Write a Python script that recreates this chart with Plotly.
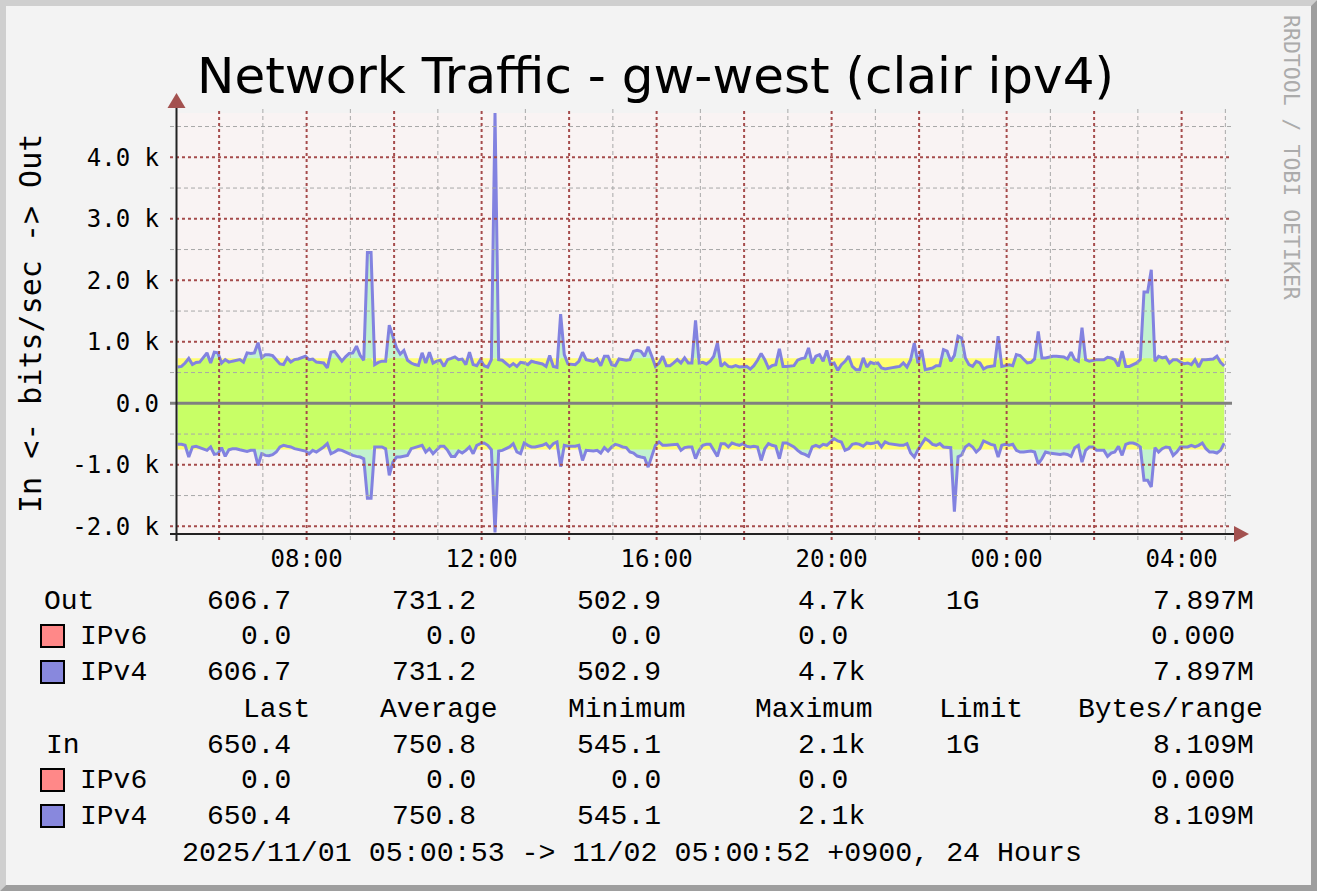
import plotly.graph_objects as go
import pandas as pd

# ---------------- data ----------------
range_start = pd.Timestamp("2025-11-01 05:00:53")
range_end = pd.Timestamp("2025-11-02 05:00:52")
times = pd.date_range(range_start + pd.Timedelta(minutes=2.5), periods=288, freq="5min")

out_ipv4 = [
    590, 600, 655, 730, 630, 665, 670, 740, 820, 655,
    830, 820, 655, 710, 670, 685, 700, 710, 670, 820,
    810, 820, 985, 740, 790, 790, 775, 710, 640, 630,
    740, 670, 710, 720, 740, 765, 710, 720, 670, 665,
    655, 575, 830, 845, 765, 685, 755, 810, 820, 930,
    780, 700, 2450, 2450, 630, 665, 685, 685, 1270, 1100,
    900, 800, 860, 700, 655, 630, 615, 820, 655, 830,
    655, 685, 700, 600, 710, 730, 755, 710, 720, 630,
    830, 630, 612, 710, 612, 590, 710, 4720, 710, 700,
    656, 600, 645, 600, 667, 656, 628, 683, 667, 656,
    639, 600, 776, 600, 585, 1450, 792, 640, 628, 628,
    683, 830, 710, 694, 683, 721, 612, 765, 765, 628,
    612, 721, 710, 700, 710, 847, 863, 847, 765, 918,
    765, 600, 656, 765, 612, 612, 656, 710, 656, 738,
    656, 656, 1350, 656, 667, 640, 683, 765, 984, 600,
    656, 600, 590, 612, 590, 600, 600, 557, 612, 700,
    809, 710, 574, 612, 628, 885, 600, 600, 612, 612,
    700, 727, 738, 900, 650, 765, 792, 683, 860, 640,
    656, 535, 628, 683, 765, 600, 546, 546, 738, 590,
    667, 645, 656, 574, 557, 574, 580, 590, 600, 656,
    590, 710, 980, 650, 874, 546, 557, 574, 612, 612,
    874, 847, 683, 780, 1090, 1060, 738, 628, 600, 683,
    656, 557, 590, 600, 612, 1090, 600, 612, 628, 612,
    792, 776, 710, 656, 667, 721, 1170, 738, 738, 754,
    765, 765, 765, 754, 721, 830, 710, 683, 1230, 710,
    683, 700, 710, 710, 710, 749, 738, 710, 600, 847,
    600, 600, 628, 656, 710, 1810, 1810, 2170, 683, 765,
    738, 754, 656, 710, 710, 667, 645, 656, 628, 710,
    590, 710, 710, 710, 721, 765, 667, 607,
]

in_ipv4 = [
    667, 667, 683, 874, 710, 699, 721, 738, 765, 710,
    831, 820, 721, 863, 754, 738, 738, 754, 765, 781,
    765, 765, 1011, 820, 847, 852, 836, 792, 710, 683,
    699, 710, 738, 754, 765, 776, 820, 765, 792, 754,
    710, 656, 820, 792, 754, 765, 792, 831, 847, 863,
    874, 902, 1545, 1545, 710, 710, 710, 740, 1170, 956,
    874, 874, 863, 847, 738, 721, 699, 683, 792, 738,
    820, 754, 699, 699, 765, 863, 863, 776, 809, 765,
    710, 820, 683, 656, 645, 683, 754, 2100, 776, 765,
    738, 710, 656, 792, 820, 645, 683, 710, 710, 699,
    683, 656, 721, 656, 628, 1030, 683, 699, 699, 699,
    683, 929, 765, 776, 776, 765, 809, 721, 776, 710,
    667, 683, 710, 721, 792, 809, 858, 874, 885, 1038,
    874, 683, 628, 683, 683, 678, 667, 667, 765, 721,
    710, 710, 900, 760, 683, 667, 667, 765, 863, 656,
    656, 710, 645, 667, 683, 656, 699, 710, 699, 710,
    929, 738, 656, 683, 699, 902, 645, 645, 683, 710,
    765, 809, 831, 863, 710, 683, 710, 667, 683, 628,
    574, 612, 628, 765, 738, 667, 656, 667, 699, 645,
    656, 645, 628, 710, 628, 656, 667, 667, 683, 683,
    656, 809, 874, 754, 656, 574, 612, 667, 683, 656,
    710, 721, 721, 1760, 870, 840, 710, 667, 710, 792,
    738, 612, 645, 667, 683, 874, 683, 667, 683, 667,
    765, 792, 792, 781, 776, 792, 984, 902, 792, 809,
    820, 820, 831, 820, 831, 863, 721, 683, 956, 765,
    710, 710, 765, 765, 765, 863, 809, 792, 699, 847,
    667, 645, 645, 667, 710, 1250, 1250, 1360, 721, 792,
    738, 710, 721, 847, 792, 710, 710, 710, 683, 710,
    683, 645, 738, 792, 792, 809, 765, 650,
]

out_ipv6 = [0.0] * 288
in_ipv6 = [0.0] * 288

out_avg = 731.2
in_avg = 750.8

y_tick_vals = [-2000, -1000, 0, 1000, 2000, 3000, 4000]
y_tick_text = ["-2.0 k", "-1.0 k", "0.0", "1.0 k", "2.0 k", "3.0 k", "4.0 k"]
y_min, y_max = -2125, 4720

stat_headers = ["Last", "Average", "Minimum", "Maximum", "Limit", "Bytes/range"]
out_total_stats = ["606.7", "731.2", "502.9", "4.7k", "1G", "7.897M"]
out_v6_stats = ["0.0", "0.0", "0.0", "0.0", "", "0.000"]
out_v4_stats = ["606.7", "731.2", "502.9", "4.7k", "", "7.897M"]
in_total_stats = ["650.4", "750.8", "545.1", "2.1k", "1G", "8.109M"]
in_v6_stats = ["0.0", "0.0", "0.0", "0.0", "", "0.000"]
in_v4_stats = ["650.4", "750.8", "545.1", "2.1k", "", "8.109M"]

title_text = "Network Traffic - gw-west (clair ipv4)"
y_title = "In <- bits/sec -> Out"
footer_text = "2025/11/01 05:00:53 -> 11/02 05:00:52 +0900, 24 Hours"
watermark = "RRDTOOL / TOBI OETIKER"

# ---------------- styling ----------------
FIG_W, FIG_H = 1317, 891
PL, PR, PT, PB = 176, 1226, 113, 534

CANVAS = "#F3F3F3"
PLOT_BG = "#F9F3F3"
MINT = "#C2F2CF"
LIME = "#C8FF66"
YELLOW = "#FFFF70"
BLUE = "#8282E0"
V6_COLOR = "#FF8888"
V4_COLOR = "#8888DD"
MAJOR = "#A54B4B"
MINOR = "#A8A8A8"
ARROW = "#A3514F"
MONO = "DejaVu Sans Mono"
LEG = "Liberation Mono"


def px(x):
    return (x - PL) / (PR - PL)


def py(y):
    return (PB - y) / (PB - PT)


out_total = [a + b for a, b in zip(out_ipv4, out_ipv6)]
in_total = [a + b for a, b in zip(in_ipv4, in_ipv6)]
in_neg = [-v for v in in_total]
out_clip = [min(v, out_avg) for v in out_total]
in_clip = [max(v, -in_avg) for v in in_neg]

fig = go.Figure()


def add_fill(y, color, fill):
    fig.add_trace(go.Scatter(x=times, y=y, mode="lines", line=dict(width=0, color=color),
                             fill=fill, fillcolor=color, hoverinfo="skip", showlegend=False))


add_fill(out_total, MINT, "tozeroy")
add_fill(in_neg, MINT, "tozeroy")
add_fill(out_clip, LIME, "tozeroy")
add_fill([out_avg] * len(times), YELLOW, "tonexty")
add_fill(in_clip, LIME, "tozeroy")
add_fill([-in_avg] * len(times), YELLOW, "tonexty")

for series in (out_ipv4, [-v for v in in_ipv4]):
    fig.add_trace(go.Scatter(x=times, y=series, mode="lines",
                             line=dict(color=BLUE, width=3), showlegend=False))

shapes = []


def path(points):
    return "M " + " L ".join(f"{px(x):.6f},{py(y):.6f}" for x, y in points) + " Z"


# frame bevel
shapes.append(dict(type="path", xref="paper", yref="paper", layer="below",
                   path=path([(0, 0), (FIG_W, 0), (FIG_W - 6, 6), (6, 6), (6, FIG_H - 6), (0, FIG_H)]),
                   fillcolor="#CFCFCF", line=dict(width=0)))
shapes.append(dict(type="path", xref="paper", yref="paper", layer="below",
                   path=path([(FIG_W, 0), (FIG_W, FIG_H), (0, FIG_H), (6, FIG_H - 6),
                              (FIG_W - 6, FIG_H - 6), (FIG_W - 6, 6)]),
                   fillcolor="#9E9E9E", line=dict(width=0)))

# vertical grid (hours)
hour_marks = pd.date_range("2025-11-01 06:00", "2025-11-02 05:00", freq="1h")
for h in hour_marks:
    major = h.hour % 2 == 0
    shapes.append(dict(type="line", xref="x", yref="paper", x0=h, x1=h,
                       y0=py(540), y1=py(108), layer="above",
                       line=dict(color=MAJOR if major else MINOR, width=2 if major else 1,
                                 dash="3px,3px" if major else "4px,3px")))
# horizontal grid
for v in range(-2000, 5000, 500):
    if v == 0:
        continue
    major = v % 1000 == 0
    shapes.append(dict(type="line", xref="paper", yref="y", x0=px(170), x1=px(1232),
                       y0=v, y1=v, layer="above",
                       line=dict(color=MAJOR if major else MINOR, width=2 if major else 1,
                                 dash="3px,3px" if major else "4px,3px")))
# zero line
shapes.append(dict(type="line", xref="paper", yref="y", x0=px(170), x1=px(1232), y0=0, y1=0,
                   layer="above", line=dict(color="#808080", width=3)))
# axes
shapes.append(dict(type="line", xref="paper", yref="paper", x0=px(176.5), x1=px(176.5),
                   y0=py(541), y1=py(106), layer="above", line=dict(color="#222222", width=2)))
shapes.append(dict(type="line", xref="paper", yref="paper", x0=px(170), x1=px(1236),
                   y0=py(534), y1=py(534), layer="above", line=dict(color="#222222", width=2)))
# arrows
shapes.append(dict(type="path", xref="paper", yref="paper", layer="above",
                   path=path([(176.5, 93), (185.5, 108), (167.5, 108)]),
                   fillcolor=ARROW, line=dict(width=0)))
shapes.append(dict(type="path", xref="paper", yref="paper", layer="above",
                   path=path([(1249, 534), (1234, 526), (1234, 542)]),
                   fillcolor=ARROW, line=dict(width=0)))

# legend swatches
for yc, col in ((636, V6_COLOR), (672, V4_COLOR), (780, V6_COLOR), (816, V4_COLOR)):
    shapes.append(dict(type="rect", xref="paper", yref="paper", layer="above",
                       x0=px(41), x1=px(64), y0=py(yc + 11), y1=py(yc - 11),
                       fillcolor=col, line=dict(color="#000000", width=2)))

annotations = []


def ann(text, x, y, xanchor="left", size=28, family=LEG, color="#000000", angle=0, yanchor="middle"):
    annotations.append(dict(text=text, x=px(x), y=py(y), xref="paper", yref="paper",
                            xanchor=xanchor, yanchor=yanchor, showarrow=False, textangle=angle,
                            font=dict(family=family, size=size, color=color)))


ann(title_text, 655, 76, xanchor="center", size=50, family="DejaVu Sans")
ann(y_title, 30, 324, xanchor="center", size=30, family=MONO, angle=-90)
ann(watermark, 1292, 157, xanchor="center", size=21.5, family=MONO, color="#ABABAB", angle=90)

value_right = [293, 478, 663, 850, 982, 1237]
unit_right = [293, 478, 663, 867, 982, 1256]
header_right = [312, 500, 688, 875, 1025, 1265]


def stat_row(label, label_x, values, y):
    ann(label, label_x, y)
    for i, v in enumerate(values):
        if not v:
            continue
        xr = unit_right[i] if v[-1].isalpha() else value_right[i]
        ann(v, xr, y, xanchor="right")


stat_row("Out", 42, out_total_stats, 601)
stat_row("IPv6", 78, out_v6_stats, 636)
stat_row("IPv4", 78, out_v4_stats, 672)
for i, htxt in enumerate(stat_headers):
    ann(htxt, header_right[i], 709, xanchor="right")
stat_row("In", 44, in_total_stats, 745)
stat_row("IPv6", 78, in_v6_stats, 780)
stat_row("IPv4", 78, in_v4_stats, 816)
ann(footer_text, 632, 853, xanchor="center", size=28.3)

label_times = pd.date_range("2025-11-01 08:00", "2025-11-02 04:00", freq="4h")

fig.update_layout(
    width=FIG_W, height=FIG_H,
    margin=dict(l=PL, r=FIG_W - PR, t=PT, b=FIG_H - PB, autoexpand=False),
    paper_bgcolor=CANVAS, plot_bgcolor=PLOT_BG,
    showlegend=False,
    shapes=shapes, annotations=annotations,
    xaxis=dict(type="date", range=[range_start, range_end], showgrid=False, zeroline=False,
               showline=False, ticks="", tickmode="array", tickvals=list(label_times),
               ticktext=[t.strftime("%H:%M") for t in label_times],
               tickfont=dict(family=MONO, size=24, color="#000000"), ticklabelstandoff=8,
               fixedrange=True),
    yaxis=dict(range=[y_min, y_max], showgrid=False, zeroline=False, showline=False, ticks="",
               tickmode="array", tickvals=y_tick_vals, ticktext=y_tick_text,
               tickfont=dict(family=MONO, size=24, color="#000000"), ticklabelstandoff=16,
               fixedrange=True),
)

fig.write_html(
    "out.html",
    config={"displayModeBar": False},
    post_script="document.documentElement.style.margin='0';document.body.style.margin='0';"
                "document.body.style.overflow='hidden';document.documentElement.style.overflow='hidden';",
)
